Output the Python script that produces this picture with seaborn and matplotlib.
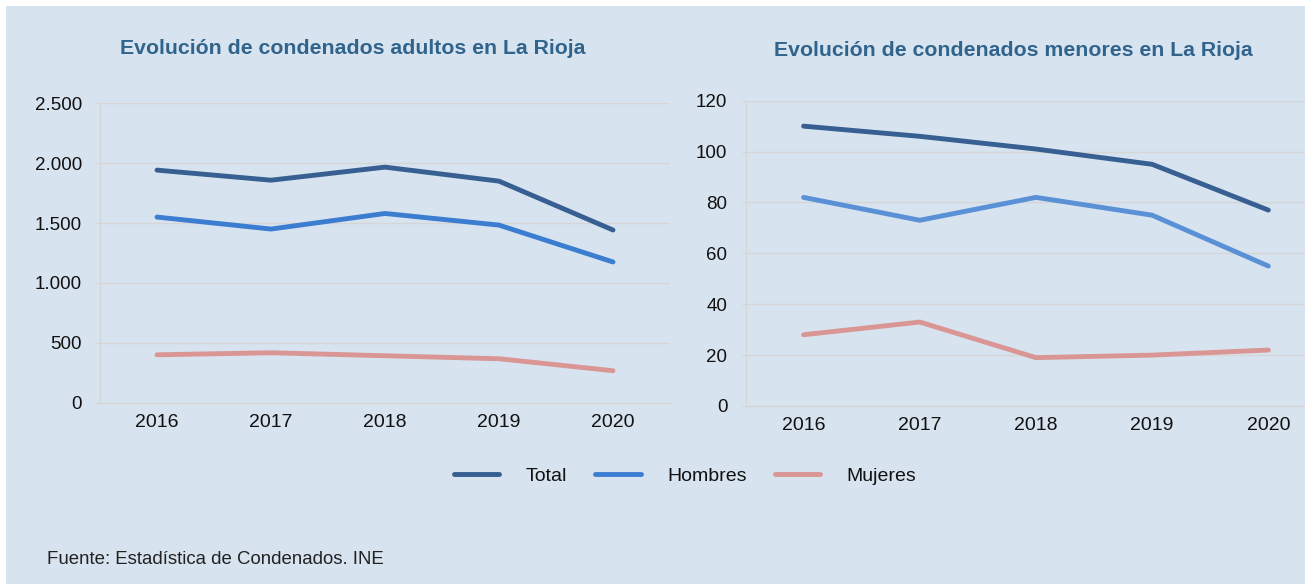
import pandas as pd
import seaborn as sns
import matplotlib.pyplot as plt
from matplotlib.patches import Rectangle
from matplotlib.ticker import FuncFormatter, FixedLocator

years = ['2016', '2017', '2018', '2019', '2020']
series = ['Total', 'Hombres', 'Mujeres']

# adultos
adult_total = [1942, 1858, 1967, 1850, 1442]
adult_hombres = [1550, 1450, 1580, 1483, 1175]
adult_mujeres = [400, 417, 392, 367, 267]

# menores
minor_total = [110, 106, 101, 95, 77]
minor_hombres = [82, 73, 82, 75, 55]
minor_mujeres = [28, 33, 19, 20, 22]

bg = '#d7e3ef'
grid_col = '#d6d6d6'
title_col = '#31648c'

sns.set_theme(style='white')
plt.rcParams['font.family'] = ['Liberation Sans', 'DejaVu Sans']


def make_df(total, hombres, mujeres):
    rows = []
    for name, vals in zip(series, [total, hombres, mujeres]):
        for i, v in enumerate(vals):
            rows.append({'pos': i, 'year': years[i], 'serie': name, 'valor': v})
    return pd.DataFrame(rows)


df_adult = make_df(adult_total, adult_hombres, adult_mujeres)
df_minor = make_df(minor_total, minor_hombres, minor_mujeres)

pal_left = {'Total': '#375f91', 'Hombres': '#3b7dd0', 'Mujeres': '#da9694'}
pal_right = {'Total': '#375f91', 'Hombres': '#5990d6', 'Mujeres': '#da9694'}

fig = plt.figure(figsize=(13.05, 5.84), dpi=100)
fig.patch.set_facecolor('white')
fig.patches.append(Rectangle((6 / 1305, 0), 1, 1 - 6 / 584, transform=fig.transFigure,
                             facecolor=bg, edgecolor='none', zorder=-10))

ax1 = fig.add_axes([100 / 1305, 1 - 402.7 / 584, 570 / 1305, 299.4 / 584])
ax2 = fig.add_axes([745.5 / 1305, 1 - 406 / 584, 560 / 1305, 305.3 / 584])

sns.lineplot(data=df_adult, x='pos', y='valor', hue='serie', palette=pal_left,
             linewidth=3.5, legend=False, ax=ax1)
sns.lineplot(data=df_minor, x='pos', y='valor', hue='serie', palette=pal_right,
             linewidth=3.5, legend=False, ax=ax2)

thousands = FuncFormatter(lambda v, p: f'{int(v):,}'.replace(',', '.'))

for ax, ymax, step, xr in [(ax1, 2500, 500, 4.5), (ax2, 120, 20, 4.32)]:
    ax.set_facecolor('none')
    ax.set_xlim(-0.5, xr)
    ax.set_ylim(0, ymax)
    ax.set_yticks(range(0, ymax + 1, step))
    ax.yaxis.set_major_formatter(thousands)
    ax.set_xticks(range(len(years)))
    ax.set_xticklabels(years)
    ax.xaxis.set_minor_locator(FixedLocator([i - 0.5 for i in range(len(years) + 1)]))
    ax.tick_params(axis='x', which='major', length=0, pad=8, labelsize=14, labelcolor='#111111')
    ax.tick_params(axis='x', which='minor', length=4, width=1, color=grid_col, direction='out')
    ax.tick_params(axis='y', length=3, width=1, color=grid_col, pad=10, labelsize=13.5,
                   labelcolor='#111111', left=True)
    ax.grid(axis='y', color=grid_col, linewidth=1)
    ax.set_xlabel('')
    ax.set_ylabel('')
    for s in ['top', 'right']:
        ax.spines[s].set_visible(False)
    for s in ['left', 'bottom']:
        ax.spines[s].set_color(grid_col)
        ax.spines[s].set_linewidth(1)
    for ln in ax.get_lines():
        ln.set_solid_capstyle('round')
        ln.set_clip_on(False)

fig.text(353 / 1305, 1 - 48 / 584, 'Evolución de condenados adultos en La Rioja',
         ha='center', va='center', fontsize=15.3, fontweight='bold', color=title_col)
fig.text(1013 / 1305, 1 - 50 / 584, 'Evolución de condenados menores en La Rioja',
         ha='center', va='center', fontsize=15.3, fontweight='bold', color=title_col)

handles = ax1.get_lines()[:3]
leg = fig.legend(handles, series, loc='center', bbox_to_anchor=(685 / 1305, 1 - 476 / 584),
                 ncol=3, frameon=False, fontsize=14, handlelength=2.35,
                 handletextpad=1.35, columnspacing=1.45)
for t in leg.get_texts():
    t.set_color('#111111')

fig.text(47 / 1305, 1 - 560 / 584, 'Fuente: Estadística de Condenados. INE',
         ha='left', va='center', fontsize=13.4, color='#222222')

fig.savefig('out.png', dpi=100, facecolor=fig.get_facecolor())
